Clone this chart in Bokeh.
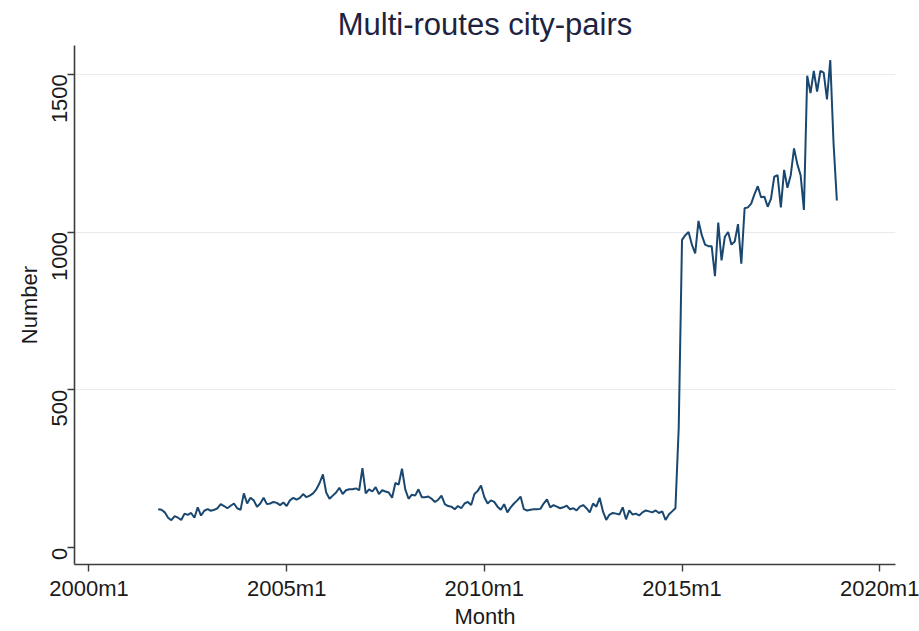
import math
from bokeh.plotting import figure
from bokeh.models import FixedTicker, Range1d, ColumnDataSource
from bokeh.embed import file_html
from bokeh.resources import INLINE

# ---------------- data ----------------
title_text = "Multi-routes city-pairs"
x_title = "Month"
y_title = "Number"

# first observation: 2001m10, monthly through 2018m12
start_year = 2001
start_month = 10

values = [
    # 2001m10 - 2004m12
    122, 120, 112, 95, 87, 100, 95, 88, 108, 104, 110, 95, 128, 102, 117,
    122, 117, 120, 125, 138, 132, 125, 133, 140, 125, 120, 172, 140, 158,
    150, 130, 140, 158, 138, 140, 145, 142, 135, 143,
    # 2005m1 - 2008m6
    132, 150, 158, 152, 158, 170, 160, 165, 172, 185, 205, 232, 175, 155,
    165, 175, 190, 170, 182, 185, 185, 188, 182, 252, 172, 185, 178, 192,
    170, 182, 178, 175, 158, 205, 200, 250, 185, 155, 168, 165, 185, 160,
    # 2008m7 - 2011m10
    160, 162, 155, 145, 152, 165, 138, 132, 130, 122, 132, 125, 140, 145,
    135, 170, 180, 197, 160, 140, 150, 145, 130, 120, 138, 112, 128, 140,
    150, 162, 122, 118, 120, 122, 122, 123, 140, 153, 128, 135,
    # 2011m11 - 2014m11
    130, 125, 128, 133, 122, 125, 118, 130, 135, 125, 112, 140, 130, 158,
    115, 88, 105, 110, 108, 105, 128, 90, 118, 105, 108, 102, 112, 118,
    115, 112, 118, 110, 115, 88, 105, 115, 125,
    # 2014m12
    380,
    # 2015m1 - 2018m12
    975, 990, 1000, 960, 932, 1035, 990, 960, 955, 955, 860, 1030, 910,
    985, 1000, 960, 970, 1025, 900, 1075, 1078, 1090, 1120, 1145, 1110,
    1112, 1080, 1105, 1175, 1180, 1078, 1197, 1140, 1180, 1265, 1215,
    1180, 1070, 1495, 1440, 1510, 1445, 1510, 1505, 1420, 1545, 1280, 1100,
]

x_tick_months = [0, 60, 120, 180, 240]          # months since 2000m1
x_tick_labels = ["2000m1", "2005m1", "2010m1", "2015m1", "2020m1"]
y_ticks = [0, 500, 1000, 1500]
y_grid_ticks = [500, 1000, 1500]

# -------------- derived ---------------
start_idx = (start_year - 2000) * 12 + (start_month - 1)
months = list(range(start_idx, start_idx + len(values)))
labels = [f"{2000 + m // 12}m{m % 12 + 1}" for m in months]
src = ColumnDataSource(dict(month=months, value=values, label=labels))

FONT = "Liberation Sans"
TXT = "#1a1a1a"
AXC = "#3c3c3c"

p = figure(
    width=919, height=631,
    output_backend="svg", toolbar_location=None, tools="",
    x_range=Range1d(-4.4, 244.8), y_range=Range1d(-53.2, 1590.8),
    min_border_left=74, min_border_right=24,
    min_border_top=45, min_border_bottom=61,
    title=title_text,
    background_fill_color="white", border_fill_color="white",
    outline_line_color=None,
)

p.title.align = "center"
p.title.text_font = FONT
p.title.text_font_size = "31px"
p.title.text_font_style = "normal"
p.title.text_color = "#1e2340"
p.title.standoff = 7

p.line("month", "value", source=src, line_color="#1a476f", line_width=2)

# x axis
p.xaxis.ticker = FixedTicker(ticks=x_tick_months)
p.xaxis.major_label_overrides = {t: l for t, l in zip(x_tick_months, x_tick_labels)}
p.xaxis.axis_label = x_title
# y axis
p.yaxis.ticker = FixedTicker(ticks=y_ticks)
p.yaxis.major_label_orientation = math.pi / 2
p.yaxis.axis_label = y_title

for ax in (p.xaxis[0], p.yaxis[0]):
    ax.axis_line_color = AXC
    ax.axis_line_width = 1.6
    ax.major_tick_line_color = AXC
    ax.major_tick_line_width = 1.4
    ax.major_tick_out = 7
    ax.major_tick_in = 0
    ax.minor_tick_line_color = None
    ax.major_label_text_font = FONT
    ax.major_label_text_font_size = "22px"
    ax.major_label_text_color = TXT
    ax.axis_label_text_font = FONT
    ax.axis_label_text_font_size = "22px"
    ax.axis_label_text_font_style = "normal"
    ax.axis_label_text_color = TXT

p.xaxis.major_label_standoff = 4
p.xaxis.axis_label_standoff = 0
p.yaxis.major_label_standoff = 8
p.yaxis.axis_label_standoff = 0

p.xgrid.visible = False
p.ygrid.ticker = FixedTicker(ticks=y_grid_ticks)
p.ygrid.grid_line_color = "#e8ebee"
p.ygrid.grid_line_width = 1.2

open("out.html", "w").write(file_html(p, INLINE))
